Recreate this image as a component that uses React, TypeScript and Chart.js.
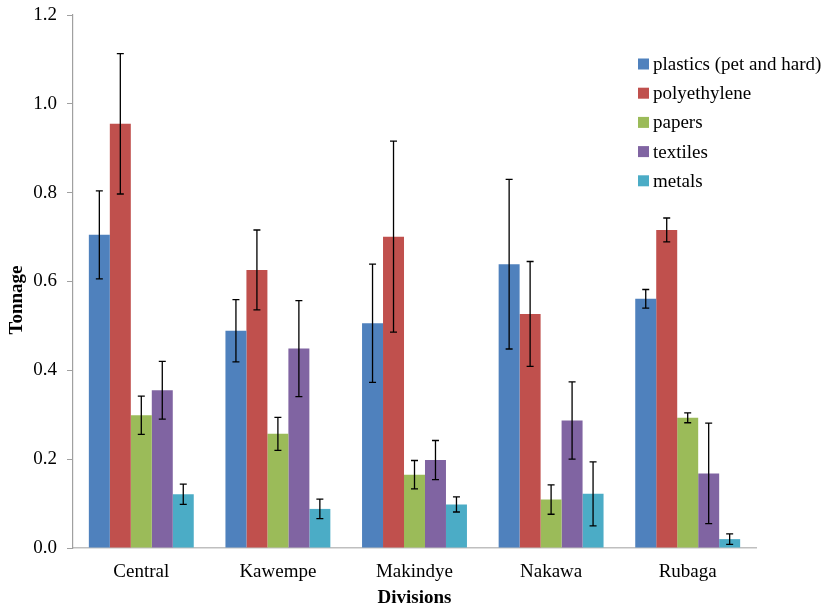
import React, { useEffect, useRef } from "react";
import { Chart, registerables } from "chart.js";

Chart.register(...registerables);

const categories = ["Central", "Kawempe", "Makindye", "Nakawa", "Rubaga"];
const seriesNames = ["plastics (pet and hard)", "polyethylene", "papers", "textiles", "metals"];
const seriesColors = ["#4F81BD", "#C0504D", "#9BBB59", "#8064A2", "#4BACC6"];

const plastics = [0.705, 0.489, 0.506, 0.639, 0.561];
const plasticsErr = [0.099, 0.070, 0.133, 0.191, 0.021];
const polyethylene = [0.955, 0.626, 0.701, 0.527, 0.716];
const polyethyleneErr = [0.158, 0.090, 0.215, 0.118, 0.027];
const papers = [0.299, 0.257, 0.165, 0.109, 0.293];
const papersErr = [0.043, 0.037, 0.032, 0.033, 0.011];
const textiles = [0.355, 0.449, 0.198, 0.287, 0.168];
const textilesErr = [0.065, 0.108, 0.044, 0.087, 0.113];
const metals = [0.121, 0.088, 0.098, 0.122, 0.020];
const metalsErr = [0.023, 0.022, 0.017, 0.072, 0.012];

const seriesValues = [plastics, polyethylene, papers, textiles, metals];
const seriesErrors = [plasticsErr, polyethyleneErr, papersErr, textilesErr, metalsErr];

const yTicks = [0, 0.2, 0.4, 0.6, 0.8, 1.0, 1.2];
const xTitle = "Divisions";
const yTitle = "Tonnage";

const FONT = "'Liberation Serif', 'Times New Roman', serif";

const errorBarPlugin = {
  id: "errorBars",
  afterDatasetsDraw(chart: any) {
    const ctx = chart.ctx;
    const yScale = chart.scales.y;
    ctx.save();
    ctx.strokeStyle = "#000000";
    ctx.lineWidth = 1.3;
    chart.data.datasets.forEach((ds: any, di: number) => {
      const meta = chart.getDatasetMeta(di);
      meta.data.forEach((bar: any, i: number) => {
        const v = ds.data[i];
        const e = ds.errors[i];
        const x = bar.x;
        const yt = yScale.getPixelForValue(v + e);
        const yb = yScale.getPixelForValue(Math.max(0, v - e));
        ctx.beginPath();
        ctx.moveTo(x, yt);
        ctx.lineTo(x, yb);
        ctx.moveTo(x - 3.5, yt);
        ctx.lineTo(x + 3.5, yt);
        ctx.moveTo(x - 3.5, yb);
        ctx.lineTo(x + 3.5, yb);
        ctx.stroke();
      });
    });
    ctx.restore();
  },
};

const customLegendPlugin = {
  id: "customLegend",
  afterDraw(chart: any) {
    const ctx = chart.ctx;
    ctx.save();
    ctx.font = `19px ${FONT}`;
    ctx.textBaseline = "middle";
    ctx.textAlign = "left";
    const x0 = 638;
    const y0 = 64;
    const step = 29.2;
    chart.data.datasets.forEach((ds: any, i: number) => {
      const y = y0 + i * step;
      ctx.fillStyle = ds.backgroundColor;
      ctx.fillRect(x0, y - 5.5, 11, 11);
      ctx.fillStyle = "#000000";
      ctx.fillText(ds.label, x0 + 15, y + 1);
    });
    ctx.restore();
  },
};

const yTitlePlugin = {
  id: "yTitle",
  afterDraw(chart: any) {
    const ctx = chart.ctx;
    ctx.save();
    ctx.font = `bold 19px ${FONT}`;
    ctx.fillStyle = "#000000";
    ctx.textAlign = "center";
    ctx.textBaseline = "middle";
    ctx.translate(17, 300);
    ctx.rotate(-Math.PI / 2);
    ctx.fillText(yTitle, 0, 0);
    ctx.restore();
  },
};

export default function App() {
  const canvasRef = useRef<HTMLCanvasElement | null>(null);

  useEffect(() => {
    if (!canvasRef.current) return;
    const chart = new Chart(canvasRef.current, {
      type: "bar",
      data: {
        labels: categories,
        datasets: seriesNames.map((name, i) => ({
          label: name,
          data: seriesValues[i],
          errors: seriesErrors[i],
          backgroundColor: seriesColors[i],
          borderWidth: 0,
          barPercentage: 1.0,
          categoryPercentage: 0.768,
        })) as any,
      },
      options: {
        responsive: false,
        animation: false,
        layout: { padding: { top: 15, right: 75, left: 0, bottom: 0 } },
        plugins: {
          legend: { display: false },
          tooltip: { enabled: false },
          title: { display: false },
        },
        scales: {
          x: {
            grid: { display: false, drawTicks: false },
            border: { display: true, color: "#BFBFBF", width: 1.5 },
            ticks: {
              color: "#000000",
              font: { family: FONT, size: 19 },
              padding: 13,
            },
            title: {
              display: true,
              text: xTitle,
              color: "#000000",
              font: { family: FONT, size: 19, weight: "bold" },
              padding: { top: 0, bottom: 0 },
            },
            afterFit(scale: any) {
              scale.height = 61;
              scale.paddingLeft = 0;
              scale.paddingRight = 0;
            },
          },
          y: {
            min: 0,
            max: 1.2,
            afterBuildTicks(scale: any) {
              scale.ticks = yTicks.map((v) => ({ value: v }));
            },
            grid: {
              drawOnChartArea: false,
              drawTicks: true,
              tickLength: 6,
              color: "#A0A0A0",
            },
            border: { display: true, color: "#A0A0A0", width: 1.2 },
            ticks: {
              color: "#000000",
              font: { family: FONT, size: 19 },
              padding: 10,
              callback: (v: any) => Number(v).toFixed(1),
            },
            afterFit(scale: any) {
              scale.width = 73;
              scale.paddingTop = 0;
              scale.paddingBottom = 0;
            },
          },
        },
      } as any,
      plugins: [errorBarPlugin, customLegendPlugin, yTitlePlugin],
    });
    return () => chart.destroy();
  }, []);

  return (
    <div style={{ position: "fixed", left: 0, top: 0, width: 831, height: 609, background: "#ffffff" }}>
      <canvas ref={canvasRef} width={831} height={609} style={{ display: "block" }} />
    </div>
  );
}
